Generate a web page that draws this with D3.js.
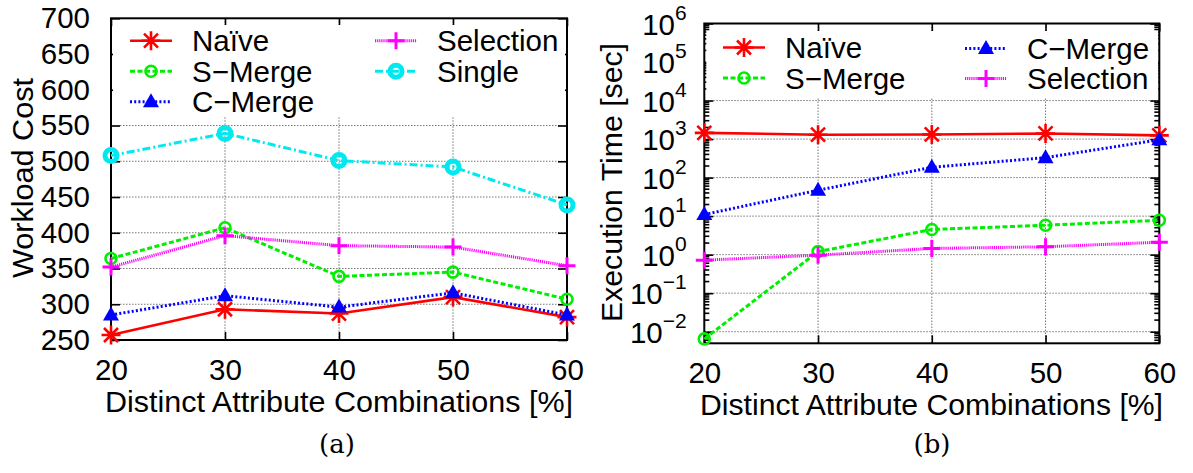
<!DOCTYPE html>
<html>
<head>
<meta charset="utf-8">
<script src="https://cdn.jsdelivr.net/npm/d3@7"></script>
<style>
  html, body { margin: 0; padding: 0; background: #fff; }
  svg { display: block; }
  text { font-family: "Liberation Sans", Arial, Helvetica, sans-serif; fill: #000; }
</style>
</head>
<body>
<svg id="chart" width="1193" height="473"></svg>
<script>
// Distinct attribute combinations (%) shared by both panels
const combos = [20, 30, 40, 50, 60];

// Panel (a): workload cost
const costTicks = [250, 300, 350, 400, 450, 500, 550, 600, 650, 700];
const costNaive     = [257, 293, 287, 310, 282];
const costSMerge    = [364, 407, 339, 345, 307];
const costCMerge    = [285, 312, 296, 316, 285];
const costSelection = [352, 396, 382, 380, 354];
const costSingle    = [508, 539, 501, 492, 439];

// Panel (b): execution time in seconds (log scale)
const timeExponents = [-2, -1, 0, 1, 2, 3, 4, 5, 6];
const timeNaive     = [1450, 1300, 1320, 1400, 1250];
const timeSMerge    = [0.0065, 1.2, 4.5, 5.8, 7.8];
const timeCMerge    = [11, 47, 185, 330, 960];
const timeSelection = [0.72, 0.97, 1.45, 1.6, 2.1];

const seriesNames = ["Naïve", "S\u2212Merge", "C\u2212Merge", "Selection", "Single"];

// Line and point styles for each method
const styles = {
  "Naïve":          { color: "#ff0000", dash: null,        width: 2.6, marker: "star" },
  "S\u2212Merge":   { color: "#00ee00", dash: "5,2.5",     width: 3,   marker: "circle" },
  "C\u2212Merge":   { color: "#0000ff", dash: "2,2.2",     width: 3,   marker: "triangle" },
  "Selection":      { color: "#ff00ff", dash: "1.2,0.9",   width: 3,   marker: "plus" },
  "Single":         { color: "#00e8f0", dash: "8,3,2,3",   width: 3,   marker: "bigcircle" }
};

const TICK_FONT = 29.5;

const svg = d3.select("#chart");
svg.append("rect").attr("width", 1193).attr("height", 473).attr("fill", "#fff");

function drawMarker(g, type, cx, cy, color) {
  const m = g.append("g").attr("transform", `translate(${cx},${cy})`);
  if (type === "star") {
    m.append("path")
      .attr("d", "M-9.5,0H9.5M0,-9.5V9.5M-7,-7L7,7M-7,7L7,-7")
      .attr("stroke", color).attr("stroke-width", 2.6).attr("fill", "none");
  } else if (type === "circle") {
    m.append("circle").attr("r", 5.5)
      .attr("stroke", color).attr("stroke-width", 2.6).attr("fill", "none");
  } else if (type === "bigcircle") {
    m.append("circle").attr("r", 6)
      .attr("stroke", color).attr("stroke-width", 5).attr("fill", "none");
  } else if (type === "triangle") {
    m.append("path").attr("d", "M0,-8.5L8,5.5L-8,5.5Z").attr("fill", color);
  } else if (type === "plus") {
    m.append("path").attr("d", "M-8.5,0H8.5M0,-8.5V8.5")
      .attr("stroke", color).attr("stroke-width", 3).attr("fill", "none");
  }
}

function drawSeries(g, name, values, x, y) {
  const st = styles[name];
  const pts = combos.map((c, i) => [x(c), y(values[i])]);
  const path = g.append("path")
    .attr("d", d3.line()(pts))
    .attr("fill", "none")
    .attr("stroke", st.color)
    .attr("stroke-width", st.width);
  if (st.dash) path.attr("stroke-dasharray", st.dash);
  pts.forEach(p => drawMarker(g, st.marker, p[0], p[1], st.color));
}

function legendEntry(g, name, lx, ty) {
  const st = styles[name];
  const line = g.append("line")
    .attr("x1", lx).attr("x2", lx + 42).attr("y1", ty).attr("y2", ty)
    .attr("stroke", st.color).attr("stroke-width", st.width);
  if (st.dash) line.attr("stroke-dasharray", st.dash);
  drawMarker(g, st.marker, lx + 21, ty, st.color);
  g.append("text").attr("x", lx + 62).attr("y", ty + 10.5)
    .attr("font-size", 29.5).text(name);
}

function gridAndFrame(g, box, x, yPositions) {
  const grid = g.append("g").attr("stroke", "#777").attr("stroke-width", 1)
    .attr("stroke-dasharray", "1.5,1.5");
  [30, 40, 50].forEach(c => grid.append("line")
    .attr("x1", x(c)).attr("x2", x(c)).attr("y1", box.top).attr("y2", box.bottom));
  yPositions.forEach(py => grid.append("line")
    .attr("x1", box.left).attr("x2", box.right).attr("y1", py).attr("y2", py));
}

function frame(g, box) {
  g.append("rect")
    .attr("x", box.left).attr("y", box.top)
    .attr("width", box.right - box.left).attr("height", box.bottom - box.top)
    .attr("fill", "none").attr("stroke", "#000").attr("stroke-width", 2);
}

function xAxes(g, box, x) {
  const bottom = g.append("g").attr("transform", `translate(0,${box.bottom})`)
    .call(d3.axisBottom(x).tickValues(combos).tickSize(-8).tickPadding(19));
  bottom.selectAll("text").attr("font-size", TICK_FONT);
  const top = g.append("g").attr("transform", `translate(0,${box.top})`)
    .call(d3.axisTop(x).tickValues(combos).tickSize(-8).tickFormat(""));
  [bottom, top].forEach(a => {
    a.select(".domain").remove();
    a.selectAll("line").attr("stroke", "#000").attr("stroke-width", 1.6);
    a.selectAll("text").attr("font-family", null).attr("fill", "#000");
  });
}

// ---------- Panel (a) ----------
(function () {
  const box = { left: 111, top: 18.3, right: 567, bottom: 340 };
  const g = svg.append("g");
  const x = d3.scaleLinear().domain([20, 60]).range([box.left, box.right]);
  const y = d3.scaleLinear().domain([250, 700]).range([box.bottom, box.top]);

  gridAndFrame(g, box, x, costTicks.slice(1, -1).map(y));

  // Y axis with inward ticks, mirrored on the right
  const left = g.append("g").attr("transform", `translate(${box.left},0)`)
    .call(d3.axisLeft(y).tickValues(costTicks).tickSize(-9).tickPadding(21));
  const right = g.append("g").attr("transform", `translate(${box.right},0)`)
    .call(d3.axisRight(y).tickValues(costTicks).tickSize(-9).tickFormat(""));
  [left, right].forEach(a => {
    a.select(".domain").remove();
    a.selectAll("line").attr("stroke", "#000").attr("stroke-width", 1.6);
    a.selectAll("text").attr("font-family", null).attr("font-size", TICK_FONT).attr("fill", "#000");
  });
  xAxes(g, box, x);

  // Legend (opaque key)
  const lg = g.append("g");
  lg.append("rect").attr("x", box.left + 2).attr("y", 25).attr("width", 452).attr("height", 91).attr("fill", "#fff");
  legendEntry(lg, "Naïve", 130, 40.7);
  legendEntry(lg, "S\u2212Merge", 130, 71.2);
  legendEntry(lg, "C\u2212Merge", 130, 101.7);
  legendEntry(lg, "Selection", 375, 40.7);
  legendEntry(lg, "Single", 375, 71.2);

  frame(g, box);

  const data = [costNaive, costSMerge, costCMerge, costSelection, costSingle];
  seriesNames.forEach((n, i) => drawSeries(g, n, data[i], x, y));

  g.append("text").attr("transform", `translate(33,178) rotate(-90)`)
    .attr("text-anchor", "middle").attr("font-size", 29.5)
    .attr("textLength", 200).attr("lengthAdjust", "spacingAndGlyphs")
    .text("Workload Cost");
  g.append("text").attr("x", 339).attr("y", 411.7).attr("text-anchor", "middle")
    .attr("font-size", 29.5).attr("textLength", 468).attr("lengthAdjust", "spacingAndGlyphs")
    .text("Distinct Attribute Combinations [%]");
  g.append("text").attr("x", 337).attr("y", 453).attr("text-anchor", "middle")
    .attr("font-size", 26).style("font-family", "'DejaVu Serif', serif").text("(a)");
})();

// ---------- Panel (b) ----------
(function () {
  const box = { left: 704.3, top: 23.5, right: 1159.3, bottom: 343.3 };
  const g = svg.append("g");
  const x = d3.scaleLinear().domain([20, 60]).range([box.left, box.right]);
  const y = d3.scaleLog().domain([0.005, 1e6]).range([box.bottom, box.top]);

  const majors = timeExponents.map(e => Math.pow(10, e));
  gridAndFrame(g, box, x, majors.slice(0, -1).map(y));

  // Minor ticks 2..9 in each decade inside the domain
  const minors = [];
  for (let e = -3; e < 6; e++) {
    for (let k = 2; k <= 9; k++) {
      const v = k * Math.pow(10, e);
      if (v >= 0.005 && v < 1e6) minors.push(v);
    }
  }
  const ticks = g.append("g").attr("stroke", "#000").attr("stroke-width", 1.6);
  minors.forEach(v => {
    ticks.append("line").attr("x1", box.left).attr("x2", box.left + 5).attr("y1", y(v)).attr("y2", y(v));
    ticks.append("line").attr("x1", box.right).attr("x2", box.right - 5).attr("y1", y(v)).attr("y2", y(v));
  });

  const left = g.append("g").attr("transform", `translate(${box.left},0)`)
    .call(d3.axisLeft(y).tickValues(majors).tickSize(-9).tickPadding(18).tickFormat(""));
  const right = g.append("g").attr("transform", `translate(${box.right},0)`)
    .call(d3.axisRight(y).tickValues(majors).tickSize(-9).tickFormat(""));
  [left, right].forEach(a => {
    a.select(".domain").remove();
    a.selectAll("line").attr("stroke", "#000").attr("stroke-width", 1.6);
  });
  // Power-of-ten labels with superscript exponents
  left.selectAll(".tick text").each(function (d) {
    const t = d3.select(this).attr("font-family", null).attr("fill", "#000")
      .attr("font-size", TICK_FONT).attr("dy", null).attr("y", 10.5).attr("x", -17.6);
    const e = Math.round(Math.log10(d));
    t.append("tspan").text("10");
    t.append("tspan").attr("font-size", 21).attr("dy", -15)
      .text(e < 0 ? "\u2212" + (-e) : String(e));
  });
  xAxes(g, box, x);

  const lg = g.append("g");
  lg.append("rect").attr("x", box.left + 2).attr("y", 31).attr("width", 452).attr("height", 66).attr("fill", "#fff");
  legendEntry(lg, "Naïve", 723, 47.5);
  legendEntry(lg, "S\u2212Merge", 723, 78);
  legendEntry(lg, "C\u2212Merge", 965, 48.5);
  legendEntry(lg, "Selection", 965, 78.5);

  frame(g, box);

  const names = ["Naïve", "S\u2212Merge", "C\u2212Merge", "Selection"];
  const data = [timeNaive, timeSMerge, timeCMerge, timeSelection];
  names.forEach((n, i) => drawSeries(g, n, data[i], x, y));

  g.append("text").attr("transform", `translate(622,182.5) rotate(-90)`)
    .attr("text-anchor", "middle").attr("font-size", 29.5)
    .attr("textLength", 279).attr("lengthAdjust", "spacingAndGlyphs")
    .text("Execution Time [sec]");
  g.append("text").attr("x", 931.5).attr("y", 415).attr("text-anchor", "middle")
    .attr("font-size", 29.5).attr("textLength", 463).attr("lengthAdjust", "spacingAndGlyphs")
    .text("Distinct Attribute Combinations [%]");
  g.append("text").attr("x", 932).attr("y", 453).attr("text-anchor", "middle")
    .attr("font-size", 26).style("font-family", "'DejaVu Serif', serif").text("(b)");
})();
</script>
</body>
</html>
